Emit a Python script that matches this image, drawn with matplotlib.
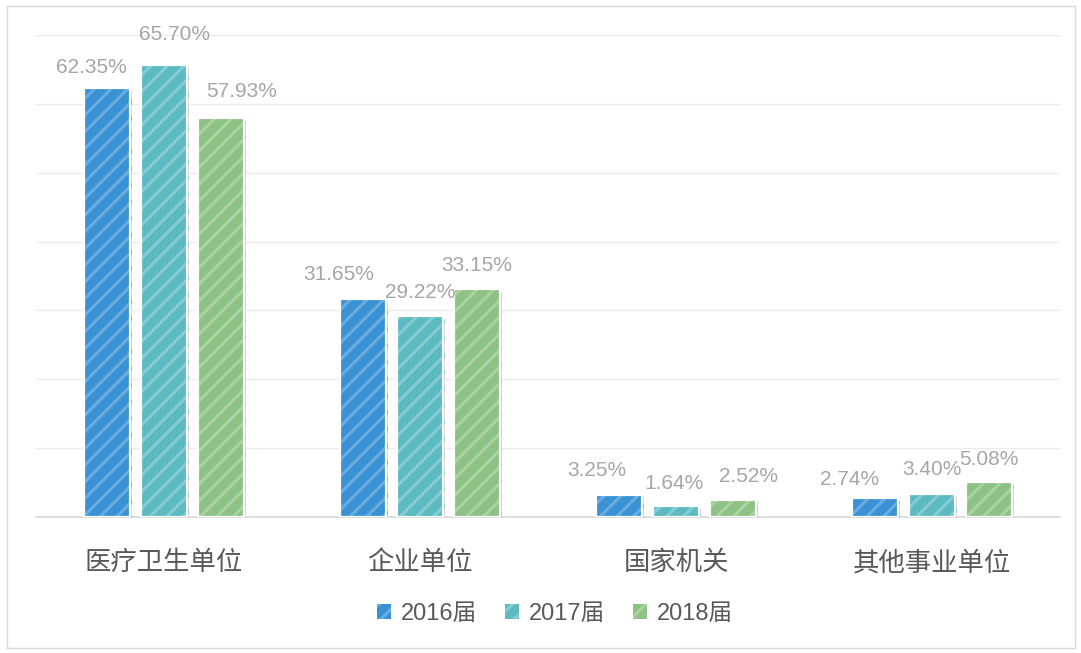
import numpy as np
import matplotlib
matplotlib.use("Agg")
import matplotlib.pyplot as plt
import matplotlib.patheffects as pe
from matplotlib.patches import Rectangle, Patch

plt.rcParams['font.family'] = ['Liberation Sans', 'Noto Sans CJK SC', 'DejaVu Sans']
plt.rcParams['hatch.linewidth'] = 2.2

categories = ['医疗卫生单位', '企业单位', '国家机关', '其他事业单位']
series = ['2016届', '2017届', '2018届']
values_2016 = [62.35, 31.65, 3.25, 2.74]
values_2017 = [65.70, 29.22, 1.64, 3.40]
values_2018 = [57.93, 33.15, 2.52, 5.08]
values = [values_2016, values_2017, values_2018]

colors = ['#3a92d4', '#5cbac2', '#8cc283']
hatch_colors = ['#6aacdf', '#86cdd3', '#a9d3a0']
# label nudges in pixels, per series per category
label_dx = [[-16, -24, -22, -25], [10, 0, -2, 0], [21, 0, 15, 0]]
label_dy = [[20, 25, 24, 19], [30, 23, 22, 24], [27, 23, 23, 23]]

fig = plt.figure(figsize=(10.81, 6.53), dpi=100)
ax = fig.add_axes([36 / 1081, 136 / 653, 1024 / 1081, 482 / 653])

x = np.arange(len(categories))
width = 0.176
step = 0.2227

for k in range(3):
    pos = x + (k - 1) * step
    ax.bar(pos, values[k], width, color=colors[k], edgecolor=hatch_colors[k],
           hatch='//', linewidth=0, zorder=3,
           path_effects=[pe.SimplePatchShadow(offset=(2, -2), shadow_rgbFace='#888888', alpha=0.35), pe.Normal()])
    ax.bar(pos, values[k], width, fill=False, edgecolor='white', linewidth=1.6, zorder=4)
    for i, v in enumerate(values[k]):
        ax.annotate(f'{v:.2f}%', xy=(pos[i], v),
                    xytext=(label_dx[k][i] * 0.72, label_dy[k][i] * 0.72),
                    textcoords='offset points', ha='center', va='center',
                    fontsize=15, color='#a6a6a6', zorder=5)

ax.set_xlim(-0.5, 3.5)
ax.set_ylim(0, 70)
ax.set_yticks(np.arange(0, 71, 10))
ax.yaxis.grid(True, color='#ebebeb', linewidth=1.0, zorder=0)
ax.set_yticklabels([])
ax.tick_params(axis='y', length=0)
ax.set_xticks(x)
ax.set_xticklabels(categories, fontsize=19, color='#595959')
ax.tick_params(axis='x', length=0, pad=24)
for s in ['top', 'right', 'left']:
    ax.spines[s].set_visible(False)
ax.spines['bottom'].set_color('#d9d9d9')
ax.spines['bottom'].set_linewidth(1.2)

handles = [Patch(facecolor=colors[k], edgecolor=hatch_colors[k], hatch='//', linewidth=0)
           for k in range(3)]
fig.legend(handles, series, loc='center', bbox_to_anchor=(555 / 1081, 1 - 614 / 653),
           ncol=3, frameon=False, fontsize=17, labelcolor='#595959',
           handlelength=0.6, handleheight=0.6, handletextpad=0.4, columnspacing=1.2)

fig.patches.append(Rectangle((7 / 1081, 5 / 653), 1068 / 1081, 642 / 653, transform=fig.transFigure,
                             fill=False, edgecolor='#d9d9d9', linewidth=1))

fig.savefig('out.png', dpi=100)
